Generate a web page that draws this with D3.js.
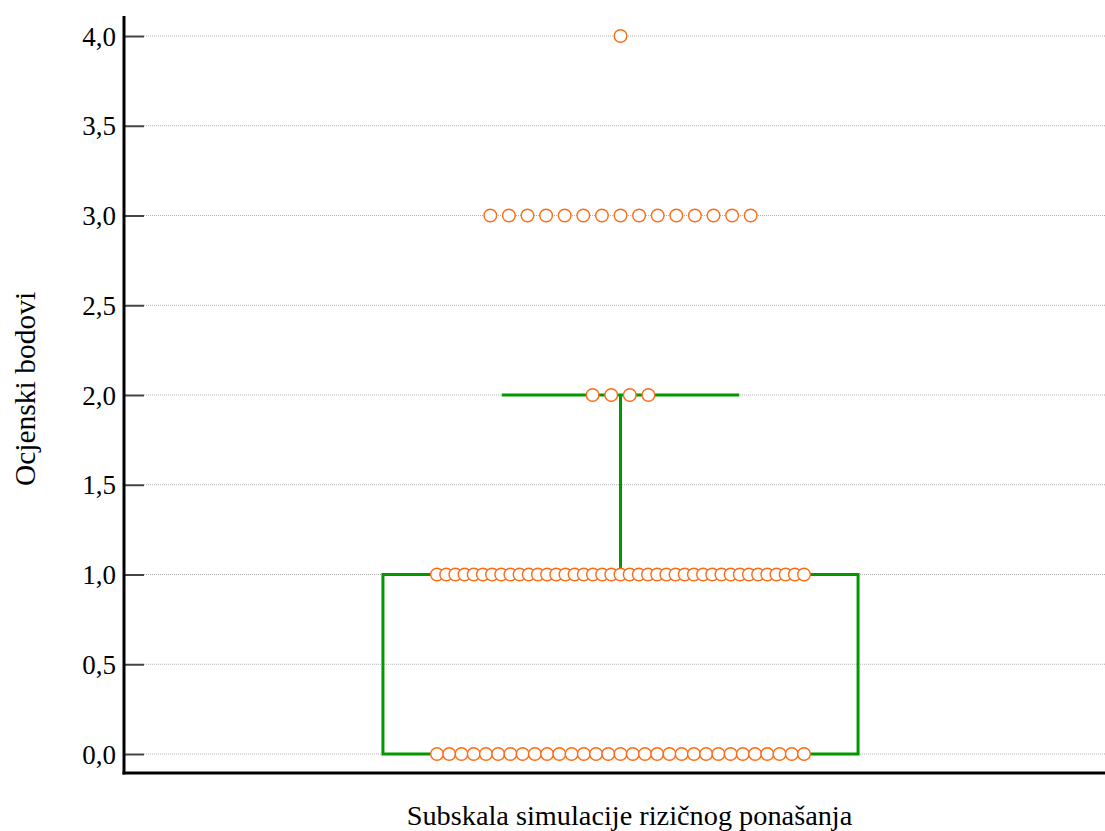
<!DOCTYPE html>
<html>
<head>
<meta charset="utf-8">
<script src="https://cdn.jsdelivr.net/npm/d3@7"></script>
<style>
  html, body { margin: 0; padding: 0; background: #fff; }
  svg { display: block; }
</style>
</head>
<body>
<svg id="chart" width="1105" height="831"></svg>
<script>
// ---- data ----
const category = "Subskala simulacije rizičnog ponašanja";
const scoreValues = [0, 1, 2, 3, 4];
const scoreCounts = [31, 41, 4, 15, 1];
const yTicks = [0, 0.5, 1, 1.5, 2, 2.5, 3, 3.5, 4];
const yTitle = "Ocjenski bodovi";

// ---- layout ----
const FONT = '"Liberation Serif", "Times New Roman", Times, serif';
const W = 1105, H = 831;
const mLeft = 124, mRight = 1117, mBottom = 773, mTop = 16;
const svg = d3.select("#chart");

const y = d3.scaleLinear().domain([0, 4]).range([754, 36]);
const x = d3.scaleBand().domain([category]).range([mLeft, mRight]).paddingInner(0).paddingOuter(0.545);
const cx = x(category) + x.bandwidth() / 2;

// expanded data for box stats
const data = [];
scoreValues.forEach((v, i) => { for (let k = 0; k < scoreCounts[i]; k++) data.push(v); });
data.sort(d3.ascending);
const q1 = d3.quantile(data, 0.25), med = d3.median(data), q3 = d3.quantile(data, 0.75);
const iqr = q3 - q1;
const upperW = d3.max(data.filter(d => d <= q3 + 1.5 * iqr));
const lowerW = d3.min(data.filter(d => d >= q1 - 1.5 * iqr));

// gridlines
svg.append("g").selectAll("line").data(yTicks).join("line")
  .attr("x1", mLeft + 20).attr("x2", W)
  .attr("y1", d => y(d)).attr("y2", d => y(d))
  .attr("stroke", "#b0b0b0").attr("stroke-width", 1)
  .attr("stroke-dasharray", "1,1");

// y axis
const yAxis = d3.axisRight(y).tickValues(yTicks).tickSize(20)
  .tickFormat(d => d3.format(".1f")(d).replace(".", ","));
const gy = svg.append("g").attr("transform", `translate(${mLeft},0)`).call(yAxis)
  .attr("font-family", FONT).attr("font-size", 27);
gy.select(".domain").remove();
gy.selectAll(".tick line").attr("stroke", "#444").attr("stroke-width", 2);
gy.selectAll(".tick text").attr("x", -8).attr("text-anchor", "end")
  .attr("dy", "0.34em").attr("fill", "#000");

// box plot
const boxHalf = x.bandwidth() / 2;
const capHalf = boxHalf / 2;
const green = "#009a00";
const gb = svg.append("g").attr("stroke", green).attr("stroke-width", 3).attr("fill", "none");
gb.append("line").attr("x1", cx).attr("x2", cx).attr("y1", y(q3)).attr("y2", y(upperW));
gb.append("line").attr("x1", cx - capHalf).attr("x2", cx + capHalf).attr("y1", y(upperW)).attr("y2", y(upperW));
gb.append("line").attr("x1", cx).attr("x2", cx).attr("y1", y(q1)).attr("y2", y(lowerW));
gb.append("rect").attr("x", cx - boxHalf).attr("y", y(q3))
  .attr("width", 2 * boxHalf).attr("height", y(q1) - y(q3));
gb.append("line").attr("x1", cx - boxHalf).attr("x2", cx + boxHalf).attr("y1", y(med)).attr("y2", y(med));

// dots (stacked rows, centered)
const maxSpan = 367, maxStep = 18.6;
const dots = [];
scoreValues.forEach((v, i) => {
  const n = scoreCounts[i];
  const step = n > 1 ? Math.min(maxStep, maxSpan / (n - 1)) : 0;
  for (let k = 0; k < n; k++) dots.push({ v, off: (k - (n - 1) / 2) * step });
});
svg.append("g").selectAll("circle").data(dots).join("circle")
  .attr("cx", d => cx + d.off).attr("cy", d => y(d.v)).attr("r", 6.3)
  .attr("fill", "#fff").attr("stroke", "#ff6a13").attr("stroke-width", 1.4);

// axis lines
svg.append("line").attr("x1", mLeft).attr("x2", mLeft).attr("y1", mTop).attr("y2", mBottom + 1.5)
  .attr("stroke", "#000").attr("stroke-width", 3);
svg.append("line").attr("x1", mLeft - 1.5).attr("x2", W).attr("y1", mBottom).attr("y2", mBottom)
  .attr("stroke", "#000").attr("stroke-width", 3);

// titles
svg.append("text").attr("x", cx + 9).attr("y", 825).attr("text-anchor", "middle")
  .attr("font-family", FONT).attr("font-size", 28.3).text(category);
svg.append("text").attr("transform", `translate(35,389) rotate(-90)`)
  .attr("font-family", FONT).attr("text-anchor", "middle").attr("font-size", 29.5).text(yTitle);
</script>
</body>
</html>
